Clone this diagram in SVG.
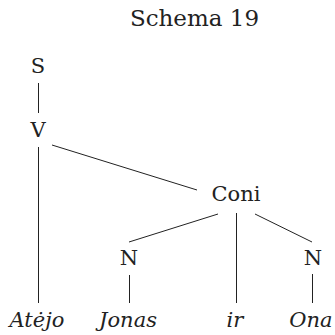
<svg xmlns="http://www.w3.org/2000/svg" width="335" height="335" viewBox="0 0 335 335">
<style>
text{font-family:"DejaVu Serif","Liberation Serif",serif;font-size:21px;fill:#222;text-anchor:middle}
.it{font-style:italic}
.t{font-size:23px}
#edges line{stroke:#222;stroke-width:1}
</style>
<rect width="335" height="335" fill="#fff"/>
<text class="t" x="194.5" y="26">Schema 19</text>
<g id="edges">
<line x1="38.5" y1="83" x2="38.5" y2="113"/>
<line x1="38.5" y1="147" x2="38.5" y2="303"/>
<line x1="52" y1="145" x2="197" y2="190"/>
<line x1="218" y1="214" x2="129" y2="242"/>
<line x1="236.5" y1="213" x2="236.5" y2="303"/>
<line x1="255" y1="214" x2="312" y2="242"/>
<line x1="129.5" y1="275" x2="129.5" y2="303"/>
<line x1="312.5" y1="274" x2="312.5" y2="303"/>
</g>
<g id="S"><text x="38" y="73">S</text></g>
<g id="V"><text x="38" y="137">V</text></g>
<g id="Coni"><text x="236" y="201">Coni</text></g>
<g id="N1"><text x="129" y="265">N</text></g>
<g id="N2"><text x="313" y="265">N</text></g>
<g id="Atejo"><text class="it" x="37" y="327">Atėjo</text></g>
<g id="Jonas"><text class="it" x="128" y="327">Jonas</text></g>
<g id="ir"><text class="it" x="235" y="327">ir</text></g>
<g id="Ona"><text class="it" x="311" y="327">Ona</text></g>
</svg>
